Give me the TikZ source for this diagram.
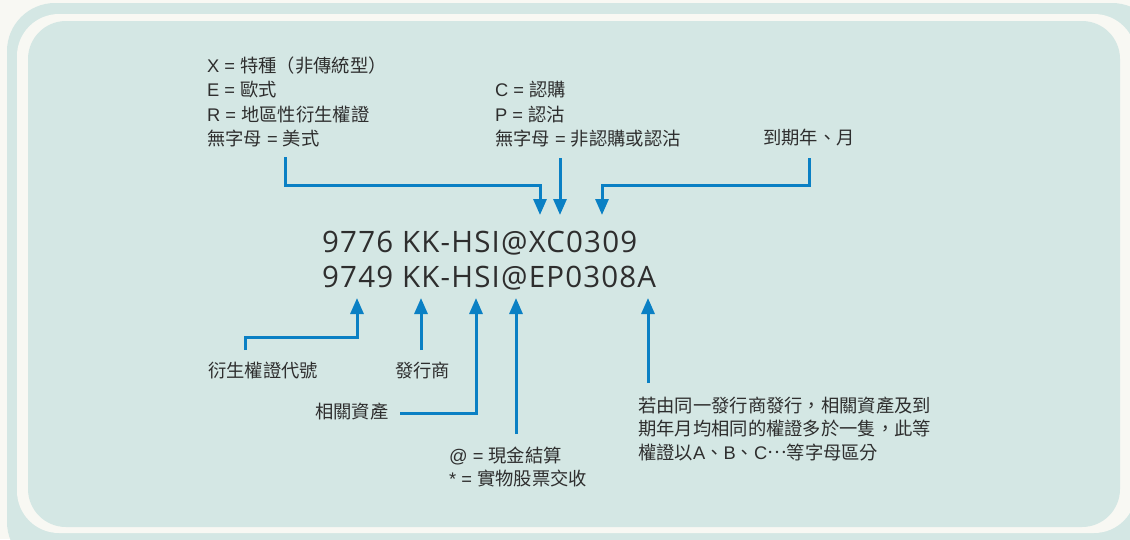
\documentclass[tikz,border=0pt]{standalone}
\usepackage{fontspec}
\setmainfont{Noto Sans CJK TC}
\newfontfamily\lat{Liberation Sans}
\newfontfamily\codefont[LetterSpace=4]{Open Sans}
\usetikzlibrary{arrows.meta}
\definecolor{bgwhite}{HTML}{F8F8F3}
\definecolor{panelteal}{HTML}{D4E7E4}
\definecolor{lineblue}{HTML}{0A80C4}
\definecolor{txt}{HTML}{2E2E2E}
\begin{document}
\begin{tikzpicture}[x=1pt,y=-1pt,
  lbl/.style={inner sep=0pt, anchor=base west, text=txt, font=\fontsize{18.3}{20}\selectfont},
  codetxt/.style={inner sep=0pt, anchor=base west, text=txt, font=\codefont\fontsize{29.5}{32}\selectfont},
  conn/.style={draw=lineblue, line width=3pt},
  arr/.style={conn, -{Triangle[width=13pt,length=16pt]}}]
\useasboundingbox (0,0) rectangle (1130,539);
% background
\fill[bgwhite] (0,0) rectangle (1130,539);
\fill[panelteal, rounded corners=48pt] (7,3) rectangle (1160,570);
\fill[bgwhite, rounded corners=42pt] (17,14) rectangle (1136,533);
\fill[panelteal, rounded corners=38pt] (28,21) rectangle (1120,527);

% top-left block
\node[lbl] (x1) at (207,72) {{\lat X = }特種（非傳統型）};
\node[lbl] (x2) at (207,96.5) {{\lat E = }歐式};
\node[lbl] (x3) at (207,121) {{\lat R = }地區性衍生權證};
\node[lbl] (x4) at (207,145) {無字母{\lat\ = }美式};
% top-middle block
\node[lbl] (c1) at (495,96.5) {{\lat C = }認購};
\node[lbl] (c2) at (495,121) {{\lat P = }認沽};
\node[lbl] (c3) at (495,145) {無字母{\lat\ = }非認購或認沽};
% top-right
\node[lbl] (ym) at (763,144) {到期年、月};

% codes
\node[codetxt] (code1) at (322,252) {9776 KK-HSI@XC0309};
\node[codetxt] (code2) at (322,287) {9749 KK-HSI@EP0308A};

% bottom labels
\node[lbl] (b1) at (208,377) {衍生權證代號};
\node[lbl] (b2) at (395,377) {發行商};
\node[lbl] (b3) at (315,418) {相關資產};
\node[lbl] (b4a) at (449,462) {{\lat @ = }現金結算};
\node[lbl] (b4b) at (449,485) {{\lat * = }實物股票交收};
\node[lbl] (b5a) at (638,412) {若由同一發行商發行，相關資產及到};
\node[lbl] (b5b) at (638,435) {期年月均相同的權證多於一隻，此等};
\node[lbl] (b5c) at (638,459) {權證以{\lat A}、{\lat B}、{\lat C}\raisebox{0.32em}{…}等字母區分};

% connector end points
\coordinate (tA) at (285,157);
\coordinate (tAc) at (285,185);
\coordinate (tAt) at (540,215);
\coordinate (tB) at (560,158);
\coordinate (tBt) at (560,215);
\coordinate (tC) at (809,158);
\coordinate (tCc) at (809,185);
\coordinate (tCt) at (602,215);

\coordinate (u1) at (245,350);
\coordinate (u1c) at (245,337);
\coordinate (u1t) at (357,298);
\coordinate (u2) at (421,350);
\coordinate (u2t) at (421,298);
\coordinate (u3) at (400,413);
\coordinate (u3c) at (476,413);
\coordinate (u3t) at (476,298);
\coordinate (u4) at (516,434);
\coordinate (u4t) at (516,298);
\coordinate (u5) at (648,383);
\coordinate (u5t) at (648,298);

% top connectors
\draw[arr] (tA) -- (tAc) -| (tAt);
\draw[arr] (tB) -- (tBt);
\draw[arr] (tC) -- (tCc) -| (tCt);
% bottom connectors
\draw[arr] (u1) -- (u1c) -| (u1t);
\draw[arr] (u2) -- (u2t);
\draw[arr] (u3) -- (u3c) -- (u3t);
\draw[arr] (u4) -- (u4t);
\draw[arr] (u5) -- (u5t);
\end{tikzpicture}
\end{document}
